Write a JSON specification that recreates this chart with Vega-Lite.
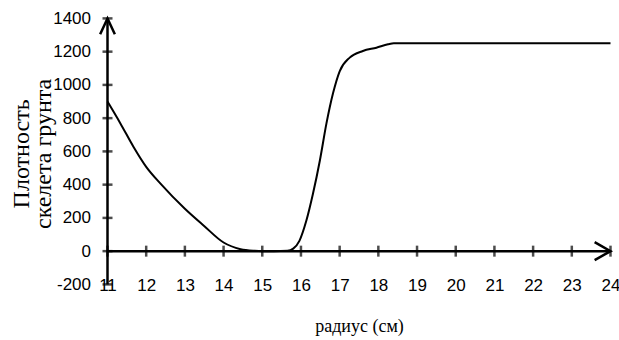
{
  "$schema": "https://vega.github.io/schema/vega-lite/v6.json",
  "width": 503,
  "height": 266,
  "autosize": "none",
  "padding": {"left": 107.5, "top": 18.4, "right": 8.5, "bottom": 55.6},
  "background": "white",
  "config": {
    "view": {"stroke": null},
    "axis": {"labelOverlap": false, "labelSeparation": 0, "labelBound": false, "labelFlush": false,
             "domain": false, "ticks": false, "tickSize": 0, "grid": false,
             "labelFont": "Liberation Sans", "labelFontSize": 17, "labelColor": "black",
             "titleFont": "Liberation Serif", "titleFontWeight": "normal", "titleColor": "black"}
  },
  "datasets": {
    "curve": [
      {"r": 11, "d": 900}, {"r": 11.33, "d": 770}, {"r": 11.67, "d": 628}, {"r": 12, "d": 507},
      {"r": 12.37, "d": 406}, {"r": 13, "d": 255}, {"r": 13.49, "d": 153}, {"r": 14, "d": 52},
      {"r": 14.44, "d": 12}, {"r": 14.8, "d": 2}, {"r": 15, "d": 0}, {"r": 15.3, "d": 0},
      {"r": 15.65, "d": 2}, {"r": 15.8, "d": 15}, {"r": 15.96, "d": 62}, {"r": 16.14, "d": 184},
      {"r": 16.31, "d": 345}, {"r": 16.49, "d": 547}, {"r": 16.66, "d": 770}, {"r": 16.83, "d": 951},
      {"r": 17.0, "d": 1082}, {"r": 17.26, "d": 1164}, {"r": 17.6, "d": 1204}, {"r": 17.95, "d": 1224},
      {"r": 18.25, "d": 1244}, {"r": 18.4, "d": 1250}, {"r": 19, "d": 1251}, {"r": 20, "d": 1250},
      {"r": 24, "d": 1250}
    ],
    "axes": [
      {"x1": 11, "x2": 24, "y1": 0, "y2": 0},
      {"x1": 11, "x2": 11, "y1": -200, "y2": 1400}
    ],
    "yticks": [
      {"x": 11, "y": -200}, {"x": 11, "y": 0}, {"x": 11, "y": 200}, {"x": 11, "y": 400},
      {"x": 11, "y": 600}, {"x": 11, "y": 800}, {"x": 11, "y": 1000}, {"x": 11, "y": 1200},
      {"x": 11, "y": 1400}
    ],
    "xticks": [
      {"x": 11, "y": 0}, {"x": 12, "y": 0}, {"x": 13, "y": 0}, {"x": 14, "y": 0}, {"x": 15, "y": 0},
      {"x": 16, "y": 0}, {"x": 17, "y": 0}, {"x": 18, "y": 0}, {"x": 19, "y": 0}, {"x": 20, "y": 0},
      {"x": 21, "y": 0}, {"x": 22, "y": 0}, {"x": 23, "y": 0}, {"x": 24, "y": 0}
    ],
    "arrows": [
      {"a": "x", "i": 0, "x": 23.59, "y": 54}, {"a": "x", "i": 1, "x": 24, "y": 0}, {"a": "x", "i": 2, "x": 23.59, "y": -54},
      {"a": "y", "i": 0, "x": 10.81, "y": 1305}, {"a": "y", "i": 1, "x": 11, "y": 1400}, {"a": "y", "i": 2, "x": 11.19, "y": 1305}
    ]
  },
  "encoding": {
    "x": {
      "type": "quantitative",
      "scale": {"domain": [11, 24], "nice": false, "zero": false},
      "axis": {
        "title": "радиус (см)",
        "values": [11, 12, 13, 14, 15, 16, 17, 18, 19, 20, 21, 22, 23, 24],
        "labelExpr": "'' + datum.value",
        "labelOverlap": false,
        "labelBaseline": "middle", "labelPadding": 1,
        "titleFontSize": 18, "titleBaseline": "middle", "titleY": 42
      }
    },
    "y": {
      "type": "quantitative",
      "scale": {"domain": [-200, 1400], "nice": false, "zero": false},
      "axis": {
        "title": ["Плотность", "скелета  грунта"],
        "values": [-200, 0, 200, 400, 600, 800, 1000, 1200, 1400],
        "labelExpr": "'' + datum.value",
        "labelOverlap": false,
        "labelPadding": 17,
        "titleFontSize": 24, "titleAngle": -90, "titleBaseline": "middle",
        "titleAlign": "center", "titleLineHeight": 22, "titleX": -86, "titleY": 135
      }
    }
  },
  "layer": [
    {
      "data": {"name": "curve"},
      "mark": {"type": "line", "color": "black", "strokeWidth": 2, "interpolate": "monotone"},
      "encoding": {
        "x": {"field": "r"},
        "y": {"field": "d"}
      }
    },
    {
      "data": {"name": "axes"},
      "mark": {"type": "rule", "color": "black", "strokeWidth": 2.5},
      "encoding": {
        "x": {"field": "x1"},
        "x2": {"field": "x2"},
        "y": {"field": "y1"},
        "y2": {"field": "y2"}
      }
    },
    {
      "data": {"name": "yticks"},
      "mark": {"type": "tick", "orient": "horizontal", "color": "black", "size": 10, "thickness": 2.5},
      "encoding": {
        "x": {"field": "x"},
        "y": {"field": "y"}
      }
    },
    {
      "data": {"name": "xticks"},
      "mark": {"type": "tick", "orient": "vertical", "color": "black", "size": 11, "thickness": 2.5},
      "encoding": {
        "x": {"field": "x"},
        "y": {"field": "y"}
      }
    },
    {
      "data": {"name": "arrows"},
      "mark": {"type": "line", "color": "black", "strokeWidth": 2.5, "strokeJoin": "miter"},
      "encoding": {
        "x": {"field": "x"},
        "y": {"field": "y"},
        "detail": {"field": "a"},
        "order": {"field": "i"}
      }
    }
  ]
}
